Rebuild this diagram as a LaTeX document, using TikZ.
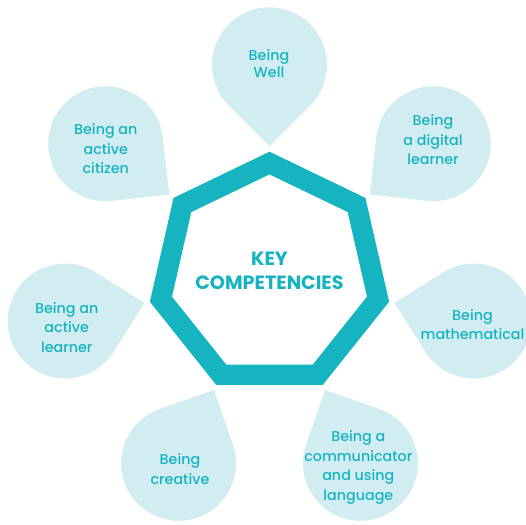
\documentclass[tikz,border=0pt]{standalone}
\usepackage{fontspec}
\setmainfont{Poppins}
\newfontfamily\dropfont{Poppins Medium}
\usetikzlibrary{calc}
\definecolor{tealA}{RGB}{22,179,192}
\definecolor{dropC}{RGB}{209,237,242}
\tikzset{
  lbl/.style={text=tealA, align=center, inner sep=0pt, font=\dropfont\fontsize{14.3}{19.5}\selectfont},
  keylbl/.style={text=tealA, align=center, inner sep=0pt, font=\fontsize{19.2}{24}\selectfont\bfseries},
  dropfill/.style={fill=dropC},
  heptfill/.style={fill=tealA, even odd rule}
}
\begin{document}
\begin{tikzpicture}[x=1pt,y=-1pt]
\useasboundingbox (0,0) rectangle (526,524);
\coordinate (O) at (269.5,274.4);
\foreach \a/\n in {270/w,321.43/d,12.86/m,64.29/c,115.71/cr,167.14/l,218.57/ci}{
  \coordinate (C\n) at ($(O)+(\a:209.6)$);
  \coordinate (T\n) at ($(O)+(\a:128.3)$);
  \path[dropfill] (T\n) -- ($(C\n)+(\a+225:57.5)$) arc[start angle=\a+225, delta angle=270, radius=57.5] -- cycle;
}
\path[heptfill]
  ($(O)+(270:122.7)$) -- ($(O)+(321.43:122.7)$) -- ($(O)+(12.86:122.7)$) -- ($(O)+(64.29:122.7)$) -- ($(O)+(115.71:122.7)$) -- ($(O)+(167.14:122.7)$) -- ($(O)+(218.57:122.7)$) -- cycle
  ($(O)+(270:100)$) -- ($(O)+(321.43:100)$) -- ($(O)+(12.86:100)$) -- ($(O)+(64.29:100)$) -- ($(O)+(115.71:100)$) -- ($(O)+(167.14:100)$) -- ($(O)+(218.57:100)$) -- cycle;
\node[keylbl] (key) at (269.5,270.5) {KEY\\COMPETENCIES};
\node[lbl, font=\dropfont\fontsize{14.3}{17}\selectfont] (tw) at (269,63.4) {Being\\Well};
\node[lbl] (td) at (433,140) {Being\\a digital\\learner};
\node[lbl] (tm) at (472.5,324.5) {Being\\mathematical};
\node[lbl] (tc) at (358.3,467.5) {Being a\\communicator\\and using\\language};
\node[lbl] (tcr) at (180,469) {Being\\creative};
\node[lbl] (tl) at (66.7,327.4) {Being an\\active\\learner};
\node[lbl] (tci) at (105.8,148.8) {Being an\\active\\citizen};
\end{tikzpicture}
\end{document}
